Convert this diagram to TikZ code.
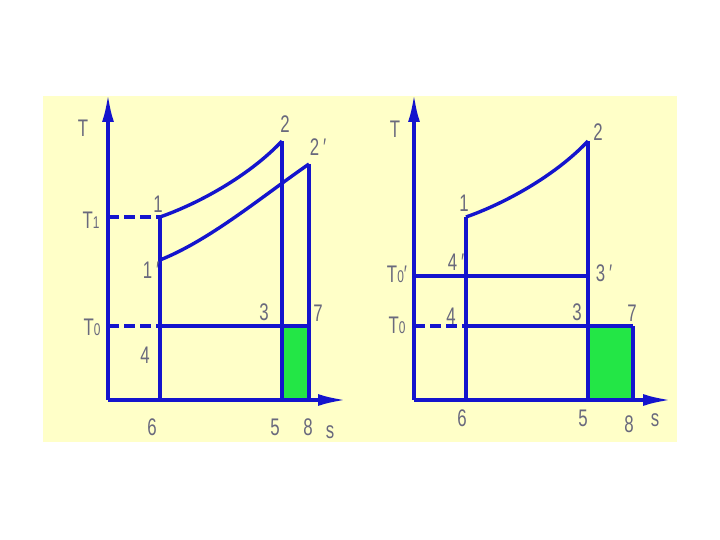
\documentclass[tikz,border=0pt]{standalone}
\usepackage{fontspec}
\setmainfont{Liberation Sans}
\newfontfamily\labfont[FakeStretch=0.7]{Liberation Sans}
\usetikzlibrary{arrows.meta}
\definecolor{bgyellow}{RGB}{255,255,200}
\definecolor{lineblue}{RGB}{20,20,205}
\definecolor{areagreen}{RGB}{35,230,70}
\definecolor{labgray}{RGB}{105,105,125}
\tikzset{
  plotline/.style={draw=lineblue, line width=3.4pt},
  dashline/.style={draw=lineblue, line width=3.4pt, dash pattern=on 11pt off 5pt},
  axisline/.style={draw=lineblue, line width=3.4pt, -{Latex[length=28pt,width=12pt]}},
  lab/.style={text=labgray, inner sep=0pt, font=\labfont\fontsize{24}{24}\selectfont}
}
\begin{document}
\begin{tikzpicture}[x=1pt,y=-1pt]
\useasboundingbox (0,0) rectangle (720,540);
\fill[bgyellow] (43,96) rectangle (677,442);

% ---------- left panel ----------
\coordinate (LO) at (108,400);
\coordinate (LT) at (108,94);
\coordinate (LS) at (346,400);
\coordinate (L1) at (160,217);
\coordinate (L6) at (160,400);
\coordinate (L2) at (282,141);
\coordinate (L5) at (282,400);
\coordinate (L1p) at (160,260);
\coordinate (L2p) at (309,164);
\coordinate (L8) at (309,400);
\coordinate (L4) at (160,326);
\coordinate (L7) at (309,326);
\coordinate (L3) at (282,326);
\coordinate (LT1) at (108,217);
\coordinate (LT0) at (108,326);

\fill[areagreen] (L3) rectangle (L8);
\draw[axisline] (LO) -- (LT);
\draw[axisline] (LO) -- (LS);
\draw[plotline] (L6) -- (L1);
\draw[plotline] (L1) .. controls (200,203) and (250,175) .. (L2);
\draw[plotline] (L2) -- (L5);
\draw[plotline] (L1p) .. controls (210,240) and (260,198) .. (L2p);
\draw[plotline] (L2p) -- (L8);
\draw[dashline] (LT1) -- (L1);
\draw[dashline] (LT0) -- (L4);
\draw[plotline] (L4) -- (L7);

\node[lab] (lT) at (83,128) {T};
\node[lab] (lT1) at (91,220) {T{\fontsize{17}{17}\selectfont 1}};
\node[lab] (lT0) at (92,327) {T{\fontsize{17}{17}\selectfont 0}};
\node[lab] (l1) at (158,204) {1};
\node[lab] (l1p) at (151,270) {1\,′};
\node[lab] (l2) at (285,124) {2};
\node[lab] (l2p) at (318,147) {2\,′};
\node[lab] (l3) at (264,312) {3};
\node[lab] (l7) at (318,313) {7};
\node[lab] (l4) at (145,355) {4};
\node[lab] (l6) at (152,427) {6};
\node[lab] (l5) at (275,427) {5};
\node[lab] (l8) at (308,427) {8};
\node[lab] (ls) at (330,432) {s};

% ---------- right panel ----------
\coordinate (RO) at (414,400);
\coordinate (RT) at (414,94);
\coordinate (RS) at (671,400);
\coordinate (R1) at (466,217);
\coordinate (R6) at (466,400);
\coordinate (R2) at (588,141);
\coordinate (R5) at (588,400);
\coordinate (R4p) at (466,276);
\coordinate (R3p) at (588,276);
\coordinate (RT0p) at (414,276);
\coordinate (RT0) at (414,326);
\coordinate (R4) at (466,326);
\coordinate (R3) at (588,326);
\coordinate (R7) at (633,326);
\coordinate (R8) at (633,400);

\fill[areagreen] (R3) rectangle (R8);
\draw[axisline] (RO) -- (RT);
\draw[axisline] (RO) -- (RS);
\draw[plotline] (R6) -- (R1);
\draw[plotline] (R1) .. controls (506,203) and (556,175) .. (R2);
\draw[plotline] (R2) -- (R5);
\draw[plotline] (RT0p) -- (R3p);
\draw[dashline] (RT0) -- (R4);
\draw[plotline] (R4) -- (R7);
\draw[plotline] (R7) -- (R8);

\node[lab] (rT) at (395,129) {T};
\node[lab] (r2) at (598,132) {2};
\node[lab] (r1) at (464,203) {1};
\node[lab] (r4p) at (456,262) {4\,′};
\node[lab] (rT0p) at (397,274) {T{\fontsize{17}{17}\selectfont 0}′};
\node[lab] (r3p) at (604,273) {3\,′};
\node[lab] (rT0) at (397,325) {T{\fontsize{17}{17}\selectfont 0}};
\node[lab] (r4) at (451,316) {4};
\node[lab] (r3) at (577,312) {3};
\node[lab] (r7) at (632,313) {7};
\node[lab] (r6) at (462,418) {6};
\node[lab] (r5) at (583,418) {5};
\node[lab] (r8) at (629,424) {8};
\node[lab] (rs) at (655,420) {s};
\end{tikzpicture}
\end{document}
